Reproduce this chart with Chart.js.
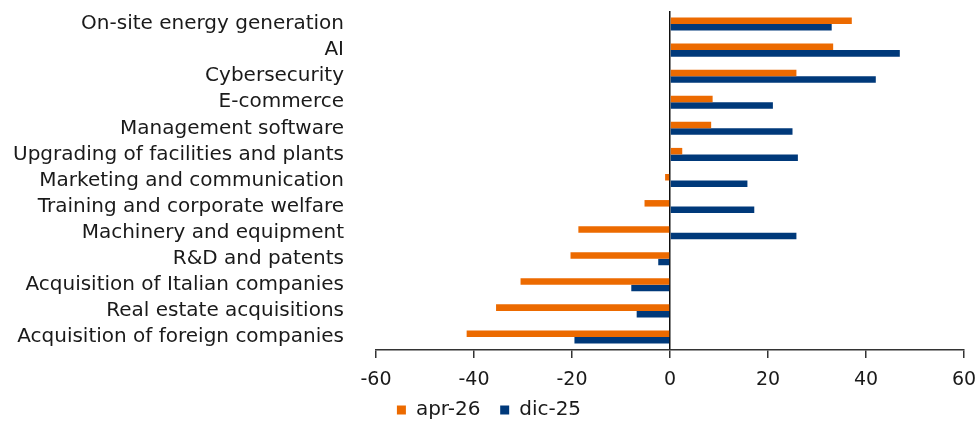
<!DOCTYPE html>
<html>
<head>
<meta charset="utf-8">
<script src="https://cdn.jsdelivr.net/npm/chart.js@4.4.1/dist/chart.umd.min.js"></script>
<style>
    html, body { margin: 0; padding: 0; background: #fff; }
    #wrap { width: 978px; height: 423px; position: relative; }
</style>
</head>
<body>
<div id="wrap"><canvas id="grafico"></canvas></div>
<script>
var categorias = [
    "On-site energy generation",
    "AI",
    "Cybersecurity",
    "E-commerce",
    "Management software",
    "Upgrading of facilities and plants",
    "Marketing and communication",
    "Training and corporate welfare",
    "Machinery and equipment",
    "R&D and patents",
    "Acquisition of Italian companies",
    "Real estate acquisitions",
    "Acquisition of foreign companies"
];
var apr26 = [37.1, 33.3, 25.8, 8.7, 8.4, 2.5, -1.0, -5.2, -18.7, -20.3, -30.5, -35.5, -41.5];
var dic25 = [33.0, 46.9, 42.0, 21.0, 25.0, 26.1, 15.8, 17.2, 25.8, -2.4, -7.9, -6.8, -19.5];
var xTicks = [-60, -40, -20, 0, 20, 40, 60];

var corLaranja = "#EC6A00";
var corAzul = "#00397A";
var fonte = "'DejaVu Sans', sans-serif";

var ctx = document.getElementById("grafico").getContext("2d");

var grafico = new Chart(ctx, {
    type: "bar",
    data: {
        labels: categorias,
        datasets: [
            {
                label: "apr-26",
                data: apr26,
                backgroundColor: corLaranja,
                categoryPercentage: 0.5,
                barPercentage: 1.0
            },
            {
                label: "dic-25",
                data: dic25,
                backgroundColor: corAzul,
                categoryPercentage: 0.5,
                barPercentage: 1.0
            }
        ]
    },
    options: {
        indexAxis: "y",
        responsive: true,
        maintainAspectRatio: false,
        animation: false,
        layout: {
            // legenda fica mais baixa que o normal
            padding: { top: 11, right: 0, bottom: -7, left: 0 }
        },
        plugins: {
            legend: {
                position: "bottom",
                labels: {
                    color: "#1a1a1a",
                    font: { family: fonte, size: 20 },
                    boxWidth: 9,
                    boxHeight: 9,
                    padding: 7,
                    generateLabels: function (chart) {
                        var itens = Chart.defaults.plugins.legend.labels.generateLabels(chart);
                        // espaco entre os itens
                        itens[0].text = itens[0].text + "  ";
                        return itens;
                    }
                }
            },
            tooltip: { enabled: false }
        },
        scales: {
            x: {
                min: -60,
                max: 60,
                afterBuildTicks: function (scale) {
                    scale.ticks = xTicks.map(function (v) { return { value: v }; });
                },
                afterFit: function (scale) {
                    scale.height = 43;
                    scale.paddingRight = 14;
                },
                grid: {
                    color: function (c) { return c.tick && c.tick.value === 0 ? "#111" : "transparent"; },
                    tickColor: "#333",
                    tickLength: 8,
                    lineWidth: 1.5
                },
                border: { color: "#333", width: 1.5 },
                ticks: {
                    color: "#1a1a1a",
                    font: { family: fonte, size: 19 },
                    padding: 11
                }
            },
            y: {
                afterFit: function (scale) {
                    scale.width = 376;
                    scale.paddingTop = 0;
                    scale.paddingBottom = 0;
                },
                grid: { display: false, drawTicks: false },
                border: { display: false },
                ticks: {
                    color: "#1a1a1a",
                    font: { family: fonte, size: 20 },
                    padding: 32,
                    autoSkip: false
                }
            }
        }
    }
});
</script>
</body>
</html>
